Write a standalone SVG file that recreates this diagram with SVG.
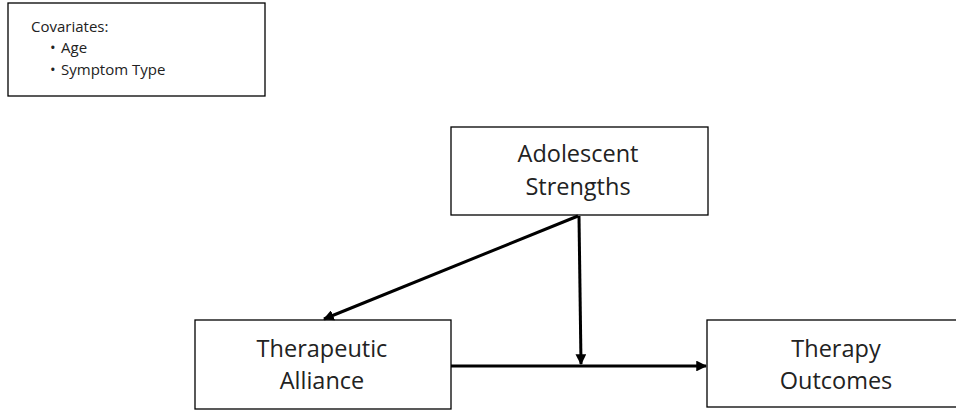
<svg xmlns="http://www.w3.org/2000/svg" width="956" height="410" viewBox="0 0 956 410">
<style>
.box{fill:#fff;stroke:#000;stroke-width:1.3}
.t{font-family:"Open Sans","Noto Sans",sans-serif;font-size:23.5px;fill:#222;text-anchor:middle}
.s{font-family:"Open Sans","Noto Sans",sans-serif;font-size:15px;fill:#222}
.c{stroke:#000;stroke-width:3;fill:none}
</style>
<defs>
<marker id="ah" viewBox="0 0 10 10" refX="9" refY="5" markerWidth="3.6" markerHeight="3.6" orient="auto" markerUnits="strokeWidth">
<path d="M0,0 L10,5 L0,10 z" fill="#000"/>
</marker>
</defs>
<rect width="956" height="410" fill="#fff"/>
<g id="covariates">
<rect class="box" x="8" y="3" width="257" height="93"/>
<text class="s" x="31" y="32">Covariates:</text>
<text class="s" x="50" y="53">•</text>
<text class="s" x="61" y="53">Age</text>
<text class="s" x="50" y="75">•</text>
<text class="s" x="61" y="75">Symptom Type</text>
</g>
<g id="adolescent">
<rect class="box" x="451" y="127" width="257" height="88"/>
<text class="t" x="578" y="162">Adolescent</text>
<text class="t" x="578" y="195">Strengths</text>
</g>
<g id="alliance">
<rect class="box" x="195" y="320" width="256" height="89"/>
<text class="t" x="322" y="357">Therapeutic</text>
<text class="t" x="322" y="389">Alliance</text>
</g>
<g id="outcomes">
<rect class="box" x="707" y="320" width="260" height="87"/>
<text class="t" x="836" y="357">Therapy</text>
<text class="t" x="836" y="389">Outcomes</text>
</g>
<g id="connectors">
<path class="c" d="M578,216 L324,319" marker-end="url(#ah)"/>
<path class="c" d="M579,216 L581,364" marker-end="url(#ah)"/>
<path class="c" d="M451,366 L706,366" marker-end="url(#ah)"/>
</g>
</svg>
